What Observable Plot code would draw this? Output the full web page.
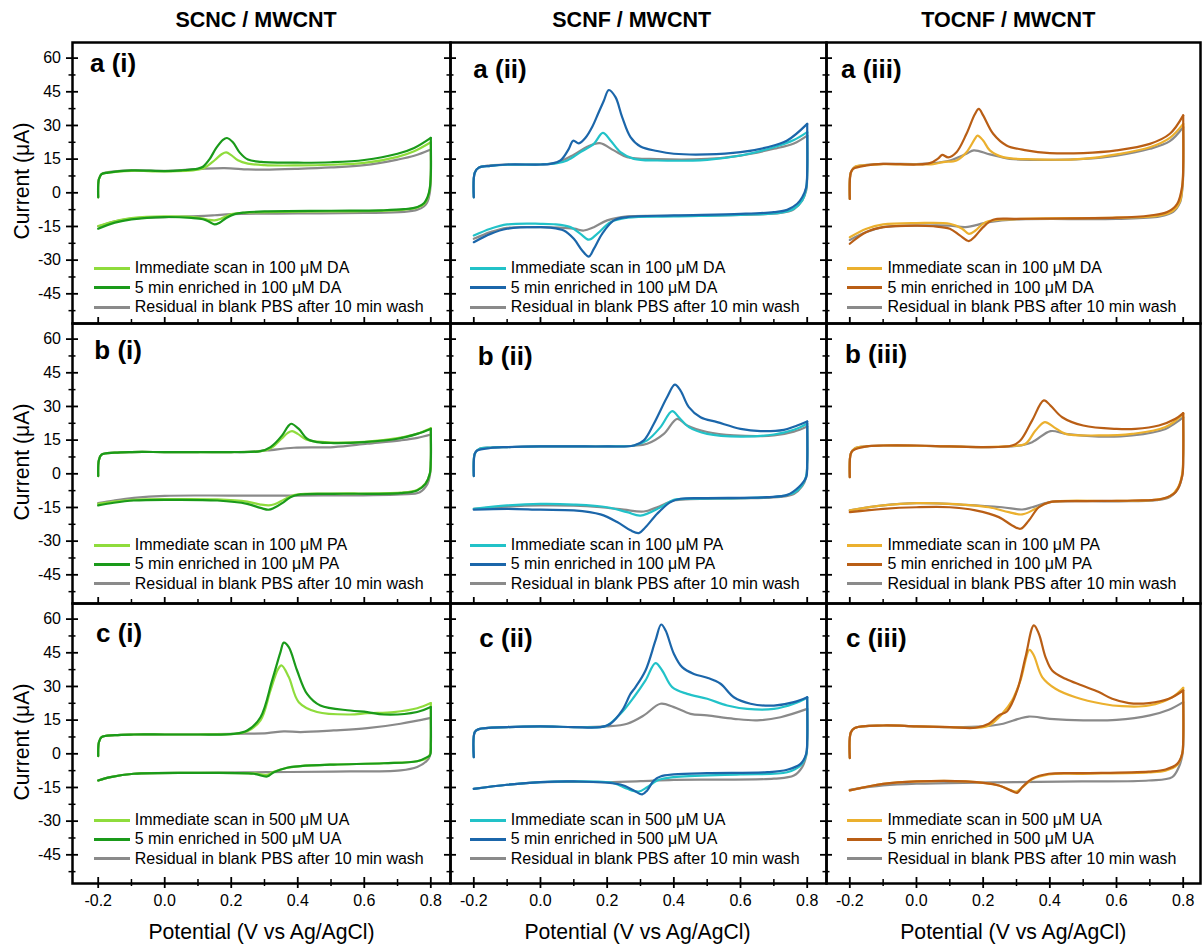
<!DOCTYPE html>
<html><head><meta charset="utf-8">
<script src="https://cdn.jsdelivr.net/npm/d3@7"></script>
<script src="https://cdn.jsdelivr.net/npm/@observablehq/plot@0.6"></script>
<style>
body{margin:0;background:#fff;}
#fig{position:relative;width:1203px;height:947px;overflow:hidden;background:#fff;font-family:"Liberation Sans",Arial,sans-serif;color:#000;}
.t{position:absolute;white-space:nowrap;line-height:1;}
.lg{position:absolute;height:2.5px;}
</style></head><body><div id="fig"></div>
<script>
// ---------------- labels ----------------
const columnTitles = ["SCNC / MWCNT", "SCNF / MWCNT", "TOCNF / MWCNT"];
const rowLetters = ["a", "b", "c"];
const colNumerals = ["i", "ii", "iii"];
const analytes = ["100 μM DA", "100 μM PA", "500 μM UA"];
const residualLabel = "Residual in blank PBS after 10 min wash";
const yTitle = "Current (μA)";
const xTitle = "Potential (V vs Ag/AgCl)";
const yTicks = [60, 45, 30, 15, 0, -15, -30, -45];
const yMinor = [52.5, 37.5, 22.5, 7.5, -7.5, -22.5, -37.5, -52.5];
const xTicks = [-0.2, 0, 0.2, 0.4, 0.6, 0.8];
const xMinor = [-0.1, 0.1, 0.3, 0.5, 0.7];

// ---------------- data: [potential V, current µA] ----------------
// row a: dopamine
const aI_imm_fwd = [[-0.2,-2],[-0.198,6],[-0.19,8.3],[-0.17,9],[-0.1,9.8],[0,9.5],[0.1,10.3],[0.12,11.2],[0.15,14.5],[0.172,17.3],[0.185,18],[0.2,16.8],[0.22,14.5],[0.25,13],[0.3,12.3],[0.4,12.2],[0.5,12.5],[0.6,13.3],[0.7,16],[0.75,18.5],[0.8,22.5]];
const aI_imm_rev = [[0.8,8],[0.797,2],[0.79,-2.5],[0.78,-5],[0.76,-6.5],[0.72,-7.5],[0.6,-8.2],[0.4,-8.4],[0.25,-8.8],[0.2,-9.5],[0.17,-11.5],[0.15,-12.3],[0.13,-12],[0.1,-11],[0,-10.5],[-0.1,-11.3],[-0.15,-12.7],[-0.2,-14.8]];
const aI_enr_fwd = [[-0.2,-2],[-0.198,6],[-0.19,8.3],[-0.17,9],[-0.1,10],[0,9.7],[0.05,10],[0.1,10.8],[0.115,11.6],[0.135,15],[0.155,20],[0.175,23.6],[0.187,24.4],[0.205,22.5],[0.225,18],[0.25,14.8],[0.29,13.8],[0.4,13.4],[0.5,13.6],[0.6,14.6],[0.7,17.4],[0.75,20],[0.8,24.5]];
const aI_enr_rev = [[0.8,8],[0.797,2],[0.79,-2],[0.78,-4.5],[0.76,-6.3],[0.72,-7.3],[0.65,-7.8],[0.5,-8],[0.3,-8.3],[0.24,-8.8],[0.21,-9.5],[0.185,-11.2],[0.165,-13.3],[0.15,-14.1],[0.135,-13],[0.115,-11.8],[0.08,-11.2],[0,-10.8],[-0.1,-11.8],[-0.15,-13.3],[-0.2,-16]];
const aI_res_fwd = [[-0.2,-2],[-0.198,6],[-0.19,8.3],[-0.17,9.2],[-0.1,10],[0,9.8],[0.1,10.6],[0.18,11],[0.25,10.4],[0.3,10.3],[0.4,10.7],[0.5,11.3],[0.6,12.3],[0.7,14.8],[0.75,16.5],[0.8,19.3]];
const aI_res_rev = [[0.8,6],[0.797,0],[0.79,-4],[0.78,-6],[0.76,-7.5],[0.72,-8.5],[0.6,-9],[0.4,-9.2],[0.2,-9.5],[0.15,-10],[0.1,-10.4],[0,-10.8],[-0.1,-11.5],[-0.15,-12.7],[-0.2,-15]];

const aII_imm_fwd = [[-0.2,-2],[-0.197,9],[-0.185,11.2],[-0.15,12],[-0.1,12.5],[0,12.6],[0.05,13.2],[0.08,14.4],[0.12,18.1],[0.16,21.8],[0.187,26.7],[0.21,23.3],[0.24,18.1],[0.28,15.1],[0.35,14.4],[0.5,14.7],[0.6,16.6],[0.7,20.3],[0.76,23.5],[0.8,27]];
const aII_imm_rev = [[0.8,8],[0.797,2],[0.785,-3.4],[0.76,-7.1],[0.72,-8.9],[0.6,-9.8],[0.4,-10.5],[0.26,-11.1],[0.21,-13.1],[0.17,-18.3],[0.145,-20.9],[0.12,-18.3],[0.09,-15.3],[0.04,-14],[0,-13.8],[-0.1,-14.1],[-0.15,-16],[-0.2,-19]];
const aII_enr_fwd = [[-0.2,-2],[-0.197,9],[-0.185,11.2],[-0.15,12],[-0.1,12.6],[0,12.6],[0.03,12.9],[0.06,14.4],[0.085,19.6],[0.098,23.2],[0.115,22],[0.135,24.5],[0.155,29.3],[0.175,36],[0.19,41],[0.205,45.8],[0.225,42.6],[0.245,33.7],[0.27,24.8],[0.3,20.6],[0.35,18.6],[0.4,17.4],[0.5,17.1],[0.6,18.1],[0.68,20.3],[0.74,23.3],[0.8,30.7]];
const aII_enr_rev = [[0.8,10],[0.797,2.5],[0.785,-2],[0.77,-4.9],[0.74,-7.6],[0.7,-8.6],[0.6,-9.4],[0.4,-10.1],[0.26,-10.8],[0.22,-12.3],[0.185,-18.3],[0.16,-25],[0.145,-28.4],[0.125,-25.7],[0.1,-20.5],[0.07,-16.8],[0.03,-15.5],[0,-15.3],[-0.1,-16],[-0.15,-18.3],[-0.2,-22]];
const aII_res_fwd = [[-0.2,-2],[-0.197,9],[-0.185,11.2],[-0.15,12.2],[-0.1,12.6],[0,12.6],[0.05,13.5],[0.1,17],[0.14,20.5],[0.178,22.1],[0.22,18.9],[0.26,15.9],[0.35,15],[0.5,15.1],[0.6,16.6],[0.7,19.6],[0.76,22],[0.8,25.5]];
const aII_res_rev = [[0.8,8],[0.797,1],[0.785,-3.5],[0.76,-7.3],[0.72,-9],[0.6,-9.8],[0.4,-10.3],[0.26,-10.5],[0.2,-12.3],[0.16,-15.3],[0.13,-16.8],[0.1,-16],[0,-15.3],[-0.1,-15.6],[-0.15,-17.5],[-0.2,-20.5]];

const aIII_imm_fwd = [[-0.2,-2.7],[-0.197,9],[-0.185,11.5],[-0.15,12.3],[-0.1,12.8],[0,12.6],[0.05,12.8],[0.08,13.7],[0.12,14.4],[0.15,18.1],[0.175,24],[0.183,25.5],[0.2,23.3],[0.22,18.9],[0.26,15.9],[0.35,14.9],[0.5,15.1],[0.6,17.1],[0.7,20.3],[0.76,24.5],[0.8,30.7]];
const aIII_imm_rev = [[0.8,10],[0.797,2],[0.79,-4],[0.77,-7.9],[0.73,-10.1],[0.6,-11.1],[0.3,-11.7],[0.207,-13.1],[0.177,-16.8],[0.157,-18.3],[0.137,-16],[0.1,-13.8],[0,-13.5],[-0.1,-14.1],[-0.15,-16],[-0.2,-19.8]];
const aIII_enr_fwd = [[-0.2,-2.7],[-0.197,9],[-0.19,10.7],[-0.15,12.2],[-0.1,12.9],[0,12.6],[0.04,13.2],[0.065,15.3],[0.077,16.9],[0.095,15.8],[0.12,18.1],[0.15,26.3],[0.175,35],[0.187,37.4],[0.2,34.5],[0.23,26.3],[0.27,21.1],[0.33,18.9],[0.4,17.7],[0.5,17.7],[0.6,18.9],[0.7,21.8],[0.76,26.3],[0.8,34.5]];
const aIII_enr_rev = [[0.8,12],[0.797,3],[0.782,-4.9],[0.752,-8.6],[0.7,-10.1],[0.6,-11.1],[0.3,-11.6],[0.23,-12],[0.2,-15.3],[0.175,-19.5],[0.157,-21.5],[0.13,-19],[0.1,-16],[0.05,-14.9],[0,-14.6],[-0.1,-15.3],[-0.15,-17.5],[-0.2,-22.7]];
const aIII_res_fwd = [[-0.2,-2.7],[-0.197,9],[-0.185,11.5],[-0.15,12.4],[-0.1,12.9],[0,12.8],[0.05,13.2],[0.1,14.4],[0.15,17.4],[0.172,18.9],[0.22,17.1],[0.28,15.1],[0.4,14.7],[0.5,15.1],[0.6,16.6],[0.7,19.6],[0.76,23],[0.8,29.3]];
const aIII_res_rev = [[0.8,8],[0.797,1],[0.79,-4.5],[0.77,-8.5],[0.73,-10.5],[0.6,-11.6],[0.3,-11.9],[0.217,-13.1],[0.147,-15.3],[0.1,-14.6],[0,-14.6],[-0.1,-15.3],[-0.15,-17.5],[-0.2,-21]];

// row b: paracetamol
const bI_imm_fwd = [[-0.2,-1],[-0.198,6],[-0.19,8.5],[-0.15,9.4],[-0.1,9.7],[0,9.7],[0.1,9.7],[0.2,9.7],[0.29,10.1],[0.32,11.5],[0.35,15.5],[0.37,18.2],[0.383,19],[0.4,17.8],[0.425,15.3],[0.46,14.3],[0.51,13.9],[0.6,14.2],[0.7,15.9],[0.76,17.9],[0.8,20.3]];
const bI_imm_rev = [[0.8,6],[0.797,0],[0.784,-4.3],[0.759,-7.2],[0.709,-8.4],[0.5,-8.8],[0.4,-9.1],[0.378,-10],[0.358,-11.5],[0.33,-13.6],[0.313,-14.1],[0.288,-13.7],[0.248,-12.4],[0.158,-11.4],[0,-11.3],[-0.093,-11.6],[-0.153,-12.4],[-0.2,-13.4]];
const bI_enr_fwd = [[-0.2,-1],[-0.198,6],[-0.19,8.5],[-0.15,9.4],[-0.1,9.7],[0,9.7],[0.1,9.7],[0.2,9.7],[0.288,10.1],[0.318,11.9],[0.353,17.1],[0.37,21],[0.38,22.3],[0.403,20],[0.428,15.6],[0.458,14.1],[0.508,13.7],[0.6,14.1],[0.7,15.6],[0.759,17.8],[0.8,20]];
const bI_enr_rev = [[0.8,6],[0.797,0],[0.784,-4.5],[0.759,-7.4],[0.709,-8.6],[0.508,-8.9],[0.408,-9.2],[0.378,-10.4],[0.358,-12.6],[0.328,-15.2],[0.313,-16],[0.288,-15.2],[0.248,-13.4],[0.158,-11.9],[0.007,-11.6],[-0.093,-11.9],[-0.153,-12.9],[-0.2,-14.1]];
const bI_res_fwd = [[-0.2,-1],[-0.198,6],[-0.19,8.5],[-0.15,9.4],[-0.1,9.7],[0,9.7],[0.1,9.7],[0.25,9.8],[0.308,10.4],[0.388,11.6],[0.508,11.9],[0.609,13.4],[0.709,14.9],[0.76,16],[0.8,17.5]];
const bI_res_rev = [[0.8,4],[0.797,-1],[0.79,-4.5],[0.767,-8.2],[0.709,-9.2],[0.4,-9.7],[0.2,-9.7],[0,-9.8],[-0.093,-10.7],[-0.153,-11.9],[-0.2,-13.1]];

const bII_imm_fwd = [[-0.2,-1],[-0.197,9],[-0.185,11],[-0.15,11.7],[-0.1,11.9],[0,12.2],[0.1,12.2],[0.2,12.2],[0.28,12.6],[0.32,14.9],[0.36,20.8],[0.395,27.9],[0.415,25.2],[0.445,20.8],[0.5,17.8],[0.6,16.6],[0.7,17.5],[0.76,19.6],[0.8,22.3]];
const bII_imm_rev = [[0.8,5],[0.797,-1],[0.785,-5],[0.76,-8.5],[0.72,-10],[0.6,-10.8],[0.45,-11.1],[0.4,-11.6],[0.36,-14.9],[0.3,-18.6],[0.26,-17.1],[0.2,-14.9],[0.1,-13.7],[0,-13.4],[-0.1,-14.1],[-0.2,-15.6]];
const bII_enr_fwd = [[-0.2,-1],[-0.197,9],[-0.19,10.4],[-0.15,11.5],[-0.1,11.9],[0,12.2],[0.1,12.2],[0.2,12.2],[0.28,12.6],[0.31,14.9],[0.34,22.3],[0.38,34.2],[0.403,39.7],[0.42,37.1],[0.445,29.7],[0.48,25.2],[0.53,23],[0.6,20],[0.66,19],[0.73,19.6],[0.77,21.5],[0.8,23.3]];
const bII_enr_rev = [[0.8,5],[0.797,-1.5],[0.775,-5.9],[0.74,-9.4],[0.68,-10.4],[0.5,-10.8],[0.42,-11.1],[0.39,-12.6],[0.35,-17.8],[0.315,-23.8],[0.295,-26.4],[0.27,-25.2],[0.23,-21.5],[0.18,-18.1],[0.1,-16.3],[0,-16],[-0.1,-15.6],[-0.2,-16]];
const bII_res_fwd = [[-0.2,-1],[-0.197,9],[-0.185,11],[-0.15,11.7],[-0.1,11.9],[0,12.2],[0.1,12.2],[0.2,12.2],[0.28,12.5],[0.32,13.4],[0.37,17.8],[0.41,24.5],[0.44,21.5],[0.5,18.6],[0.58,17.1],[0.7,17.1],[0.76,18.8],[0.8,21.1]];
const bII_res_rev = [[0.8,4],[0.797,-1.5],[0.785,-5.5],[0.76,-9],[0.72,-10.3],[0.6,-11],[0.45,-11.3],[0.4,-11.9],[0.35,-14.9],[0.31,-16.8],[0.25,-16],[0.18,-14.9],[0.1,-14.2],[0,-14.1],[-0.1,-14.6],[-0.2,-15.6]];

const bIII_imm_fwd = [[-0.2,-1.5],[-0.197,9],[-0.185,11.3],[-0.15,12.2],[-0.1,12.6],[0,12.5],[0.1,12.2],[0.2,11.9],[0.287,12.4],[0.327,13.4],[0.357,19.3],[0.385,23],[0.412,20.8],[0.447,17.8],[0.547,17.1],[0.647,17.8],[0.747,20.8],[0.8,26.7]];
const bIII_imm_rev = [[0.8,8],[0.797,0],[0.785,-6],[0.76,-10],[0.72,-11.5],[0.6,-12.1],[0.4,-12.6],[0.357,-15.6],[0.317,-18.1],[0.277,-17.1],[0.217,-14.9],[0.1,-13.4],[0,-13.1],[-0.1,-14.1],[-0.2,-16.3]];
const bIII_enr_fwd = [[-0.2,-1.5],[-0.197,9],[-0.19,10.4],[-0.15,12.2],[-0.1,12.6],[0,12.6],[0.1,12.2],[0.2,11.9],[0.287,12.6],[0.312,14.9],[0.347,23.8],[0.382,32.7],[0.402,30.4],[0.437,25.2],[0.5,21.5],[0.6,20],[0.657,20],[0.727,21.5],[0.777,24.5],[0.8,27]];
const bIII_enr_rev = [[0.8,8],[0.797,-1],[0.777,-8.2],[0.737,-11.1],[0.647,-11.9],[0.5,-12.2],[0.4,-12.6],[0.367,-14.9],[0.337,-20.8],[0.312,-24.5],[0.287,-23],[0.247,-19.3],[0.177,-16.3],[0.1,-14.9],[0,-14.9],[-0.1,-15.6],[-0.2,-17.1]];
const bIII_res_fwd = [[-0.2,-1.5],[-0.197,9],[-0.185,11.3],[-0.15,12.2],[-0.1,12.6],[0,12.5],[0.1,12.2],[0.2,11.9],[0.3,12.4],[0.347,14.1],[0.402,19],[0.447,17.8],[0.547,16.6],[0.647,17.1],[0.747,20],[0.8,25.2]];
const bIII_res_rev = [[0.8,6],[0.797,-1],[0.785,-6.5],[0.76,-10.3],[0.72,-11.7],[0.6,-12.3],[0.4,-12.6],[0.347,-14.9],[0.317,-15.9],[0.257,-14.9],[0.147,-13.8],[0,-13.1],[-0.1,-14.1],[-0.2,-16.3]];

// row c: uric acid
const cI_imm_fwd = [[-0.2,-1],[-0.198,5],[-0.19,7.4],[-0.15,8.3],[-0.093,8.6],[0,8.6],[0.1,8.6],[0.208,8.9],[0.248,10],[0.288,14.9],[0.318,28.2],[0.34,37.5],[0.351,39.4],[0.373,34.2],[0.403,23],[0.458,18.6],[0.558,17.5],[0.609,18.1],[0.689,18.6],[0.759,20.3],[0.8,22.6]];
const cI_imm_rev = [[0.8,6],[0.798,0],[0.789,-1.8],[0.759,-3.3],[0.659,-4.2],[0.508,-4.8],[0.408,-5.5],[0.368,-6.2],[0.328,-8],[0.308,-9.4],[0.268,-8.7],[0.108,-8.5],[-0.093,-8.9],[-0.163,-10.4],[-0.2,-11.9]];
const cI_enr_fwd = [[-0.2,-1],[-0.198,5],[-0.19,7.4],[-0.15,8.3],[-0.093,8.6],[0,8.6],[0.1,8.6],[0.208,8.9],[0.248,10.4],[0.288,16.3],[0.323,32.7],[0.348,45.3],[0.358,49.5],[0.373,47.5],[0.398,37.1],[0.428,26.7],[0.468,21.5],[0.558,19.3],[0.609,18.6],[0.659,17.5],[0.759,18.6],[0.8,20.8]];
const cI_enr_rev = [[0.8,5],[0.798,-0.5],[0.789,-1.5],[0.759,-3.3],[0.659,-4.2],[0.508,-4.8],[0.408,-5.5],[0.368,-6.2],[0.328,-8.2],[0.308,-10.1],[0.268,-8.9],[0.108,-8.5],[-0.093,-8.9],[-0.163,-10.4],[-0.2,-11.9]];
const cI_res_fwd = [[-0.2,-1],[-0.198,5],[-0.19,7.4],[-0.15,8.3],[-0.093,8.6],[0,8.6],[0.1,8.6],[0.208,8.9],[0.308,9.2],[0.358,10],[0.408,9.7],[0.508,10.4],[0.609,11.4],[0.709,13.4],[0.8,16]];
const cI_res_rev = [[0.8,3],[0.797,-1],[0.789,-3],[0.759,-5.9],[0.709,-7.4],[0.508,-7.9],[0.308,-8.2],[0.108,-8.5],[-0.093,-8.9],[-0.163,-10.4],[-0.2,-11.9]];

const cII_imm_fwd = [[-0.2,-1.5],[-0.197,9.7],[-0.185,11],[-0.1,11.9],[0,12.2],[0.1,11.9],[0.18,11.9],[0.2,12.6],[0.24,17.8],[0.28,25.2],[0.315,32.7],[0.345,40.4],[0.365,37.1],[0.395,29.7],[0.44,26.7],[0.5,24.5],[0.56,21.5],[0.62,20],[0.7,20],[0.76,22.3],[0.8,25]];
const cII_imm_rev = [[0.8,6],[0.797,-0.5],[0.78,-5.2],[0.74,-8.2],[0.6,-9.2],[0.4,-10.4],[0.35,-11.9],[0.32,-14.9],[0.295,-16.8],[0.26,-15.6],[0.22,-13.1],[0.1,-12.3],[0,-12.6],[-0.1,-13.8],[-0.2,-15.6]];
const cII_enr_fwd = [[-0.2,-1.5],[-0.197,9.7],[-0.185,11],[-0.1,11.9],[0,12.2],[0.1,11.9],[0.18,11.9],[0.21,13.4],[0.245,19.3],[0.27,26.7],[0.285,29.7],[0.315,37.1],[0.345,50.5],[0.362,57.6],[0.375,55],[0.4,44.6],[0.425,38.6],[0.46,35.6],[0.5,33.9],[0.54,31.2],[0.58,25.2],[0.63,22.3],[0.7,21.5],[0.76,23],[0.8,25.2]];
const cII_enr_rev = [[0.8,6],[0.797,0],[0.78,-4.5],[0.74,-7.1],[0.68,-8.2],[0.5,-8.6],[0.4,-9.2],[0.36,-10.1],[0.34,-11.9],[0.32,-16.3],[0.305,-18.1],[0.28,-16.3],[0.24,-13.7],[0.1,-12.3],[0,-12.6],[-0.1,-13.8],[-0.2,-15.6]];
const cII_res_fwd = [[-0.2,-1.5],[-0.197,9.7],[-0.185,11],[-0.1,11.9],[0,12.2],[0.1,11.9],[0.2,12.2],[0.26,13.4],[0.31,17.1],[0.36,22.3],[0.4,20.8],[0.45,17.8],[0.5,17.1],[0.58,15.6],[0.65,14.9],[0.72,16.3],[0.8,20]];
const cII_res_rev = [[0.8,4],[0.797,-1],[0.785,-5.9],[0.76,-9.7],[0.7,-11.1],[0.4,-11.6],[0.3,-12.2],[0.2,-12.6],[0.1,-12.5],[0,-12.6],[-0.1,-13.8],[-0.2,-15.6]];

const cIII_imm_fwd = [[-0.2,-1.9],[-0.197,9.5],[-0.185,11.5],[-0.1,12.6],[0,12.2],[0.1,11.9],[0.177,11.6],[0.217,12.6],[0.257,17.8],[0.287,23.8],[0.312,32.7],[0.339,46.3],[0.352,43.8],[0.377,34.2],[0.417,29],[0.477,25.2],[0.557,22.3],[0.617,21.2],[0.697,21.5],[0.767,25.2],[0.8,29.4]];
const cIII_imm_rev = [[0.8,6],[0.797,0],[0.782,-5],[0.747,-7.5],[0.697,-8.3],[0.497,-8.9],[0.397,-9.2],[0.347,-11.4],[0.317,-15],[0.3,-16.8],[0.282,-16.2],[0.247,-14.1],[0.147,-12.3],[0,-12.3],[-0.1,-13.4],[-0.2,-16.3]];
const cIII_enr_fwd = [[-0.2,-1.9],[-0.197,9.5],[-0.185,11.5],[-0.1,12.6],[0,12.2],[0.1,11.9],[0.177,11.6],[0.217,13.4],[0.247,17.1],[0.272,19],[0.302,28.2],[0.327,43.1],[0.352,57.2],[0.367,53.5],[0.387,43.1],[0.407,37.1],[0.447,33.4],[0.497,30.4],[0.547,27.5],[0.587,24.5],[0.637,22.6],[0.697,22.6],[0.757,24.5],[0.8,28.2]];
const cIII_enr_rev = [[0.8,6],[0.797,0],[0.782,-4.5],[0.747,-7],[0.697,-7.9],[0.497,-8.6],[0.397,-8.9],[0.347,-11.1],[0.317,-14.9],[0.302,-17.4],[0.282,-16.3],[0.247,-14.1],[0.147,-12.3],[0,-12.3],[-0.1,-13.4],[-0.2,-16.3]];
const cIII_res_fwd = [[-0.2,-1.9],[-0.197,9.5],[-0.185,11.5],[-0.1,12.6],[0,12.2],[0.1,11.9],[0.2,12.2],[0.26,13.4],[0.307,15.6],[0.337,16.6],[0.4,15.6],[0.5,14.9],[0.6,15.1],[0.7,17.1],[0.757,19.6],[0.8,23]];
const cIII_res_rev = [[0.8,3],[0.797,-1],[0.787,-5.9],[0.767,-10.4],[0.697,-11.9],[0.497,-12.3],[0.297,-12.6],[0.097,-13.1],[0,-13.3],[-0.1,-14.1],[-0.2,-16]];

// ---------------- assembly ----------------
const panels = [
  [
    {res: [aI_res_fwd, aI_res_rev], imm: [aI_imm_fwd, aI_imm_rev], enr: [aI_enr_fwd, aI_enr_rev]},
    {res: [aII_res_fwd, aII_res_rev], imm: [aII_imm_fwd, aII_imm_rev], enr: [aII_enr_fwd, aII_enr_rev]},
    {res: [aIII_res_fwd, aIII_res_rev], imm: [aIII_imm_fwd, aIII_imm_rev], enr: [aIII_enr_fwd, aIII_enr_rev]}
  ],
  [
    {res: [bI_res_fwd, bI_res_rev], imm: [bI_imm_fwd, bI_imm_rev], enr: [bI_enr_fwd, bI_enr_rev]},
    {res: [bII_res_fwd, bII_res_rev], imm: [bII_imm_fwd, bII_imm_rev], enr: [bII_enr_fwd, bII_enr_rev]},
    {res: [bIII_res_fwd, bIII_res_rev], imm: [bIII_imm_fwd, bIII_imm_rev], enr: [bIII_enr_fwd, bIII_enr_rev]}
  ],
  [
    {res: [cI_res_fwd, cI_res_rev], imm: [cI_imm_fwd, cI_imm_rev], enr: [cI_enr_fwd, cI_enr_rev]},
    {res: [cII_res_fwd, cII_res_rev], imm: [cII_imm_fwd, cII_imm_rev], enr: [cII_enr_fwd, cII_enr_rev]},
    {res: [cIII_res_fwd, cIII_res_rev], imm: [cIII_imm_fwd, cIII_imm_rev], enr: [cIII_enr_fwd, cIII_enr_rev]}
  ]
];

// ---------------- styles & layout ----------------
const colors = [
  {imm: "#8fdc3c", enr: "#1a9a1a", res: "#8a8a8a"},
  {imm: "#22c2c8", enr: "#1b66aa", res: "#8a8a8a"},
  {imm: "#ebb02e", enr: "#b95e15", res: "#8a8a8a"}
];
const FONT = '"Liberation Sans", Arial, Helvetica, sans-serif';
const colLeft = [72, 450, 826], colWidth = [378, 376, 374];
const rowTop = [42, 323, 603], rowHeight = [281, 280, 280];
const xCal = [[97.7, 430.3], [473.3, 806.7], [849.3, 1182.7]]; // pixel of -0.2 and 0.8
const zeroOffset = 150.3, pxPerUnit = 2.2447;
const labelOff = [[[18,29.7],[23.3,36.3],[15,36.3]],[[22.3,36.3],[27.7,42],[19,40.3]],[[24,38.7],[29.3,43.7],[20,43.7]]];
const legendFirst = [226.3, 222, 217], legendStep = 19.3, legendLineX = [22, 20, 20.7];
const titleCenter = [184, 181.7, 182.3];

const fig = document.getElementById("fig");

function addText(str, x, baseline, size, opts = {}) {
  const d = document.createElement("div");
  d.className = "t";
  d.textContent = str;
  d.style.fontSize = size + "px";
  d.style.fontWeight = opts.bold ? "bold" : "normal";
  d.style.left = x + "px";
  d.style.top = (baseline - 0.8465 * size) + "px";
  if (opts.center) d.style.transform = "translateX(-50%)";
  fig.appendChild(d);
  return d;
}

const lineStyle = {x: d => d[0], y: d => d[1], strokeWidth: 2.2, strokeLinejoin: "round", strokeLinecap: "round", curve: "catmull-rom"};

for (let r = 0; r < 3; r++) {
  for (let c = 0; c < 3; c++) {
    const W = colWidth[c], H = rowHeight[r];
    const ml = c === 0 ? 72 : 0;
    const mb = r === 2 ? 64 : 0;
    const pxV = xCal[c][1] - xCal[c][0];
    const x0 = -0.2 - (xCal[c][0] - colLeft[c]) / pxV;
    const xDomain = [x0, x0 + W / pxV];
    const yMax = zeroOffset / pxPerUnit;
    const yDomain = [yMax - H / pxPerUnit, yMax];
    const p = panels[r][c];
    const marks = [];
    for (const key of ["res", "imm", "enr"]) {
      const [fwd, rev] = p[key];
      const revFull = [fwd[fwd.length - 1]].concat(rev);
      marks.push(Plot.line(fwd, {...lineStyle, stroke: colors[c][key]}));
      marks.push(Plot.line(revFull, {...lineStyle, stroke: colors[c][key]}));
    }
    marks.push(Plot.frame({stroke: "black", strokeWidth: 2.5}));
    marks.push(Plot.axisY(yTicks, {anchor: "left", tickSize: 12, dx: 6, strokeWidth: 1.8, fill: "none", label: null}));
    marks.push(Plot.axisY(yMinor, {anchor: "left", tickSize: 7, dx: 3.5, strokeWidth: 1.5, fill: "none", label: null}));
    marks.push(Plot.axisX(xTicks, {anchor: "bottom", tickSize: r === 2 ? 11 : 6, dy: -6, strokeWidth: 1.8, fill: "none", label: null}));
    marks.push(Plot.axisX(xMinor, {anchor: "bottom", tickSize: r === 2 ? 7 : 4, dy: -4, strokeWidth: 1.5, fill: "none", label: null}));
    if (c === 0) marks.push(Plot.axisY(yTicks, {anchor: "left", tickSize: 0, tickPadding: 11.5, tickFormat: d => String(d), fontSize: 16, label: null}));
    if (r === 2) marks.push(Plot.axisX(xTicks, {anchor: "bottom", tickSize: 0, tickPadding: 11.5, tickFormat: d => d.toFixed(1), fontSize: 16, label: null}));

    const svg = Plot.plot({
      width: ml + W, height: H + mb,
      marginLeft: ml, marginRight: 0, marginTop: 0, marginBottom: mb,
      x: {domain: xDomain},
      y: {domain: yDomain},
      style: {overflow: "visible", fontFamily: FONT, fontSize: "16px", background: "transparent", color: "black"},
      marks
    });
    svg.style.position = "absolute";
    svg.style.left = (colLeft[c] - ml) + "px";
    svg.style.top = rowTop[r] + "px";
    fig.appendChild(svg);

    addText(`${rowLetters[r]} (${colNumerals[c]})`, colLeft[c] + labelOff[r][c][0], rowTop[r] + labelOff[r][c][1], 26, {bold: true});

    const entries = [
      [`Immediate scan in ${analytes[r]}`, colors[c].imm],
      [`5 min enriched in ${analytes[r]}`, colors[c].enr],
      [residualLabel, colors[c].res]
    ];
    entries.forEach(([txt, col], i) => {
      const cy = rowTop[r] + legendFirst[r] + i * legendStep;
      const ln = document.createElement("div");
      ln.className = "lg";
      ln.style.background = col;
      ln.style.left = (colLeft[c] + legendLineX[c]) + "px";
      ln.style.width = "35.5px";
      ln.style.top = Math.round(cy - 1.25) + "px";
      fig.appendChild(ln);
      addText(txt, colLeft[c] + legendLineX[c] + 40.7, cy + 5.6, 16);
    });
  }
}

columnTitles.forEach((t, c) => addText(t, colLeft[c] + titleCenter[c], 28, 21.5, {bold: true, center: true}));
[189.5, 187.5, 187.3].forEach((off, c) => addText(xTitle, colLeft[c] + off, 939, 21.2, {center: true}));
rowTop.forEach((top, r) => {
  const d = document.createElement("div");
  d.className = "t";
  d.textContent = yTitle;
  d.style.fontSize = "21.2px";
  d.style.left = "21.5px";
  d.style.top = (top + 138.8) + "px";
  d.style.transform = "translate(-50%,-50%) rotate(-90deg)";
  fig.appendChild(d);
});
</script></body></html>
